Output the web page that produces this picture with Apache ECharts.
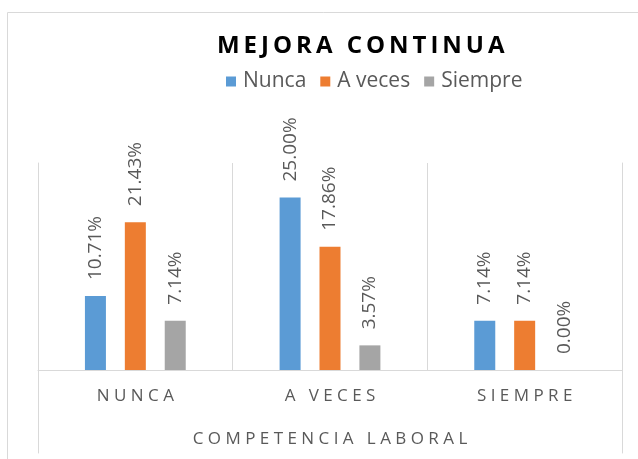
<!DOCTYPE html>
<html>
<head>
<meta charset="utf-8">
<script src="https://cdn.jsdelivr.net/npm/echarts@6/dist/echarts.min.js"></script>
<style>html,body{margin:0;padding:0;background:#fff}#c{width:638px;height:459px}</style>
</head>
<body>
<div id="c"></div>
<script>
const categories = ['NUNCA', 'A VECES', 'SIEMPRE'];
const seriesNames = ['Nunca', 'A veces', 'Siempre'];
const nuncaValues = [10.71, 25.00, 7.14];
const aVecesValues = [21.43, 17.86, 7.14];
const siempreValues = [7.14, 3.57, 0.00];
const titleText = 'MEJORA CONTINUA';
const axisTitle = 'COMPETENCIA LABORAL';

const colors = ['#5B9BD5', '#ED7D31', '#A5A5A5'];
const FONT = '"Open Sans", sans-serif';
const spaced = s => s.split('').join(' ');
const thin = s => s.split('').join('\u2009');

const chart = echarts.init(document.getElementById('c'));
const mkSeries = (name, data, i) => ({
  name, type: 'bar', data, xAxisIndex: 0, yAxisIndex: 0,
  barWidth: 21, barGap: '90%',
  itemStyle: { color: colors[i] },
  label: {
    show: true, position: 'top', rotate: 90, distance: 16,
    align: 'left', verticalAlign: 'middle',
    color: '#595959', fontSize: 19, fontFamily: FONT,
    formatter: p => p.value.toFixed(2) + '%'
  }
});
chart.setOption({
  animation: false,
  color: colors,
  title: {
    text: thin(titleText), left: 212, top: 29,
    textStyle: { fontSize: 24, fontWeight: 'bold', color: '#000', fontFamily: FONT }
  },
  legend: {
    data: seriesNames, left: 221, top: 66, itemWidth: 10, itemHeight: 10, itemGap: 14,
    icon: 'rect',
    textStyle: { fontSize: 21, color: '#595959', fontFamily: FONT, padding: [0, 0, 0, 2] }
  },
  graphic: [{
    type: 'rect', shape: { x: 7.5, y: 12.5, width: 700, height: 500 },
    style: { fill: 'none', stroke: '#D9D9D9', lineWidth: 1 }, silent: true, z: -10
  }],
  grid: [
    { left: 38, right: 16, top: 163, bottom: 89 },
    { left: 38, right: 16, top: 163, bottom: 6 }
  ],
  xAxis: [{
    type: 'category', data: categories, gridIndex: 0,
    axisLine: { show: true, lineStyle: { color: '#D9D9D9' } },
    axisTick: { show: false },
    splitLine: { show: true, interval: 0, lineStyle: { color: '#D9D9D9' } },
    axisLabel: { margin: 18, fontSize: 17, color: '#595959', fontFamily: FONT, formatter: v => spaced(v) },
    name: spaced(axisTitle), nameLocation: 'middle', nameGap: 61,
    nameTextStyle: { fontSize: 17, color: '#595959', fontFamily: FONT }
  }, {
    type: 'category', data: categories, gridIndex: 1, show: false
  }],
  yAxis: [{
    type: 'value', min: 0, max: 30, gridIndex: 0, show: false
  }, {
    type: 'value', gridIndex: 1, position: 'left',
    axisLine: { show: true, lineStyle: { color: '#D9D9D9' } },
    axisTick: { show: false }, axisLabel: { show: false }, splitLine: { show: false }
  }, {
    type: 'value', gridIndex: 1, position: 'right',
    axisLine: { show: true, lineStyle: { color: '#D9D9D9' } },
    axisTick: { show: false }, axisLabel: { show: false }, splitLine: { show: false }
  }],
  series: [
    mkSeries(seriesNames[0], nuncaValues, 0),
    mkSeries(seriesNames[1], aVecesValues, 1),
    mkSeries(seriesNames[2], siempreValues, 2)
  ]
});
</script>
</body>
</html>
